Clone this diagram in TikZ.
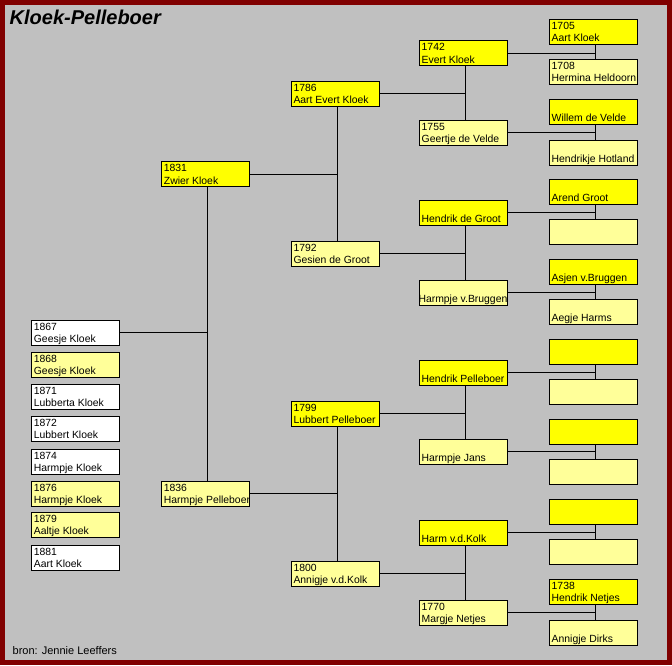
\documentclass[tikz,border=0pt]{standalone}
\usepackage{fontspec}
\setmainfont{Liberation Sans}
\definecolor{bright}{HTML}{FFFF00}
\definecolor{pale}{HTML}{FFFF99}
\definecolor{framered}{HTML}{800000}
\definecolor{bggray}{HTML}{C0C0C0}
\tikzset{
  pbox/.style={draw=black, line width=1pt, minimum width=88pt, minimum height=25pt,
    inner sep=0pt, outer sep=0pt, anchor=north west},
  ptext/.style={font=\fontsize{10.4}{12}\selectfont, inner sep=0pt, anchor=base west},
  conn/.style={draw=black, line width=1pt},
}
\newcommand\person[6]{%
  \node[pbox, fill=#4] (#1) at (#2,#3) {};
  \if\relax\detokenize{#5}\relax\else
    \node[ptext] (#1y) at (#2+2,#3+10) {#5};\fi
  \if\relax\detokenize{#6}\relax\else
    \node[ptext] (#1n) at (#2+2,#3+22.3) {#6};\fi
}
% parent P, upper T, lower B
\newcommand\family[3]{%
  \coordinate (j#1) at ([xshift=2pt]#2.south);
  \draw[conn] (#1.east) -- (#1.east -| j#1);
  \draw[conn] (j#1) -- (#3.north -| j#1);
}
\begin{document}
\begin{tikzpicture}[x=1pt, y=-1pt]
\useasboundingbox (0,0) rectangle (672,665);
\fill[framered] (0,0) rectangle (672,665);
\fill[bggray] (5,5) rectangle (667,660);

\node[font=\fontsize{20}{23}\selectfont\bfseries\itshape, anchor=base west, inner sep=0pt]
  (title) at (9.5,24) {Kloek-Pelleboer};
\node[font=\fontsize{11}{13}\selectfont, anchor=base west, inner sep=0pt]
  (bron) at (12.5,654) {bron: Jennie Leeffers};

% column 5
\person{e1}{549.5}{19.3}{bright}{1705}{Aart Kloek}
\person{e2}{549.5}{59.3}{pale}{1708}{Hermina Heldoorn}
\person{e3}{549.5}{99.3}{bright}{}{Willem de Velde}
\person{e4}{549.5}{140.3}{pale}{}{Hendrikje Hotland}
\person{e5}{549.5}{179.3}{bright}{}{Arend Groot}
\person{e6}{549.5}{219.3}{pale}{}{}
\person{e7}{549.5}{259.3}{bright}{}{Asjen v.Bruggen}
\person{e8}{549.5}{299.3}{pale}{}{Aegje Harms}
\person{e9}{549.5}{339.3}{bright}{}{}
\person{e10}{549.5}{379.3}{pale}{}{}
\person{e11}{549.5}{419.3}{bright}{}{}
\person{e12}{549.5}{459.3}{pale}{}{}
\person{e13}{549.5}{499.3}{bright}{}{}
\person{e14}{549.5}{539.3}{pale}{}{}
\person{e15}{549.5}{579.3}{bright}{1738}{Hendrik Netjes}
\person{e16}{549.5}{620.3}{pale}{}{Annigje Dirks}

% column 4
\person{d1}{419.5}{40.7}{bright}{1742}{Evert Kloek}
\person{d2}{419.5}{120.3}{pale}{1755}{Geertje de Velde}
\person{d3}{419.5}{200.3}{bright}{}{Hendrik de Groot}
\node[pbox, fill=pale] (d4) at (419.5,280.3) {};
\node[ptext] (d4n) at (418.3,302.6) {Harmpje v.Bruggen};
\person{d5}{419.5}{360.3}{bright}{}{Hendrik Pelleboer}
\person{d6}{419.5}{439.3}{pale}{}{Harmpje Jans}
\person{d7}{419.5}{520.3}{bright}{}{Harm v.d.Kolk}
\person{d8}{419.5}{600.3}{pale}{1770}{Margje Netjes}

% column 3
\person{c1}{291.3}{81}{bright}{1786}{Aart Evert Kloek}
\person{c2}{291.3}{241.3}{pale}{1792}{Gesien de Groot}
\person{c3}{291.3}{401.3}{bright}{1799}{Lubbert Pelleboer}
\person{c4}{291.3}{561.3}{pale}{1800}{Annigje v.d.Kolk}

% column 2
\person{b1}{161.7}{161.7}{bright}{1831}{Zwier Kloek}
\person{b2}{161.7}{481}{pale}{1836}{Harmpje Pelleboer}

% column 1 (children)
\person{a1}{31.7}{320}{white}{1867}{Geesje Kloek}
\person{a2}{31.7}{352}{pale}{1868}{Geesje Kloek}
\person{a3}{31.7}{384}{white}{1871}{Lubberta Kloek}
\person{a4}{31.7}{416}{white}{1872}{Lubbert Kloek}
\person{a5}{31.7}{449.3}{white}{1874}{Harmpje Kloek}
\person{a6}{31.7}{481}{pale}{1876}{Harmpje Kloek}
\person{a7}{31.7}{512.3}{pale}{1879}{Aaltje Kloek}
\person{a8}{31.7}{545}{white}{1881}{Aart Kloek}

% connectors
\family{d1}{e1}{e2}
\family{d2}{e3}{e4}
\family{d3}{e5}{e6}
\family{d4}{e7}{e8}
\family{d5}{e9}{e10}
\family{d6}{e11}{e12}
\family{d7}{e13}{e14}
\family{d8}{e15}{e16}
\family{c1}{d1}{d2}
\family{c2}{d3}{d4}
\family{c3}{d5}{d6}
\family{c4}{d7}{d8}
\family{b1}{c1}{c2}
\family{b2}{c3}{c4}
\family{a1}{b1}{b2}
\end{tikzpicture}
\end{document}
